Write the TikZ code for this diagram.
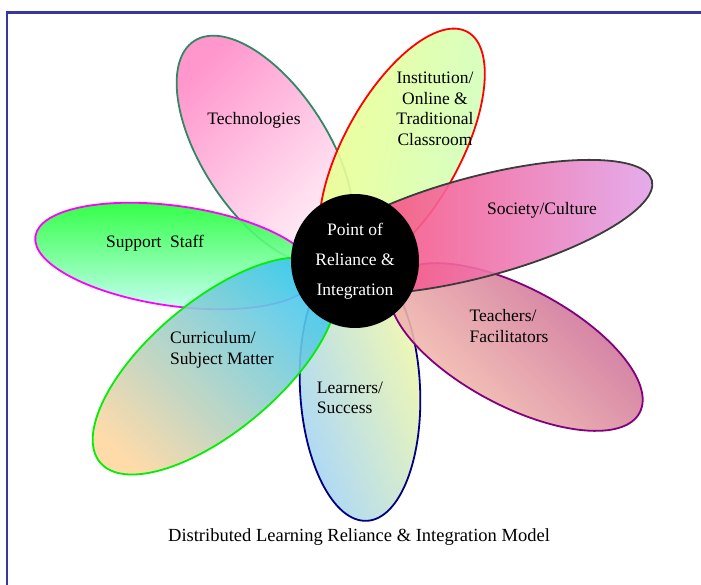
\documentclass[tikz,border=0pt]{standalone}
\usepackage{fontspec}
\setmainfont{Liberation Serif}
\usetikzlibrary{shapes.geometric}
\definecolor{cadre}{RGB}{55,55,160}
\definecolor{techA}{RGB}{255,140,200}\definecolor{techB}{RGB}{255,240,248}\definecolor{techBord}{RGB}{50,135,100}
\definecolor{instA}{RGB}{240,255,140}\definecolor{instB}{RGB}{205,255,195}
\definecolor{socA}{RGB}{255,60,100}\definecolor{socB}{RGB}{225,165,235}\definecolor{socBord}{RGB}{60,60,60}
\definecolor{teachA}{RGB}{200,100,150}\definecolor{teachB}{RGB}{250,205,180}\definecolor{teachBord}{RGB}{128,0,128}
\definecolor{learnA}{RGB}{160,210,250}\definecolor{learnB}{RGB}{245,250,165}\definecolor{learnBord}{RGB}{0,0,128}
\definecolor{currA}{RGB}{60,200,245}\definecolor{currB}{RGB}{255,215,160}\definecolor{currBord}{RGB}{0,240,0}
\definecolor{suppA}{RGB}{20,255,40}\definecolor{suppB}{RGB}{200,255,252}\definecolor{suppBord}{RGB}{255,0,255}
\tikzset{petale/.style={line width=1.8pt,fill opacity=.9},etiq/.style={font=\fontsize{17.5}{20.5}\selectfont,align=left,inner sep=0pt},coeur/.style={ellipse,fill=black,text=white,minimum width=128pt,minimum height=134pt,inner sep=0pt,align=center,font=\fontsize{17.5}{30}\selectfont},cadre/.style={draw=cadre,line width=2.5pt}}

\begin{document}
\begin{tikzpicture}[x=1pt,y=-1pt]
\useasboundingbox (0,0) rectangle (701,585);
\draw[cadre] (7,585) -- (7,12.5) -- (701,12.5);
\draw[petale,draw=techBord,top color=techA,bottom color=techB,shading angle=45,rotate around={123:(265,150)}] (265,150) ellipse [x radius=130,y radius=63];
\draw[petale,draw=red,top color=instA,bottom color=instB,shading angle=80,rotate around={61:(402,150)}] (402,150) ellipse [x radius=135,y radius=58];
\draw[petale,draw=learnBord,top color=learnA,bottom color=learnB,shading angle=110,rotate around={-87:(360,388)}] (360,388) ellipse [x radius=133,y radius=60];
\draw[petale,draw=teachBord,top color=teachA,bottom color=teachB,shading angle=-45,rotate around={-28:(516,347)}] (516,347) ellipse [x radius=140,y radius=59];
\draw[petale,draw=socBord,top color=socA,bottom color=socB,shading angle=90,rotate around={15:(478,227)}] (478,227) ellipse [x radius=180,y radius=50];
\draw[petale,draw=suppBord,top color=suppA,bottom color=suppB,shading angle=0,rotate around={-8:(175,256)}] (175,256) ellipse [x radius=141,y radius=50];
\draw[petale,draw=currBord,top color=currA,bottom color=currB,shading angle=-45,rotate around={40:(215,366)}] (215,366) ellipse [x radius=150,y radius=65];
\node[coeur] (coeur) at (355,261) {Point of\\Reliance \&\\Integration};
\node[etiq] (tech) at (254,120) {Technologies};
\node[etiq,align=center] (inst) at (435,109) {Institution/\\Online \&\\Traditional\\Classroom};
\node[etiq] (soc) at (542,210) {Society/Culture};
\node[etiq] (teach) at (509,326) {Teachers/\\Facilitators};
\node[etiq] (learn) at (350,398) {Learners/\\Success};
\node[etiq] (curr) at (222,350) {Curriculum/\\Subject Matter};
\node[etiq] (supp) at (155,243) {Support\ \ Staff};
\node[etiq,font=\fontsize{18.5}{22}\selectfont] (titre) at (359,537) {Distributed Learning Reliance \& Integration Model};
\end{tikzpicture}
\end{document}
